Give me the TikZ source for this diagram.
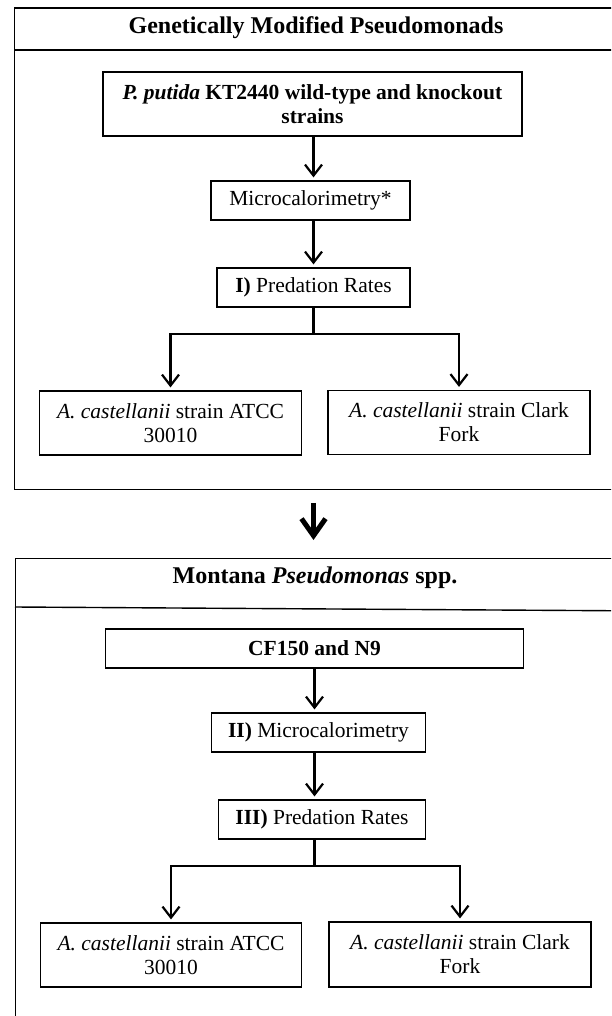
\documentclass[tikz,border=0pt]{standalone}
\usepackage{fontspec}
\setmainfont{Liberation Serif}
\usetikzlibrary{shapes,arrows.meta,positioning}

\begin{document}
\begin{tikzpicture}[x=1pt, y=-1pt,
        every node/.style={font=\fontsize{21.5}{24}\selectfont, inner sep=0pt},
        panel/.style={draw, line width=1.4pt, minimum width=640pt, anchor=north west},
        paneltitle/.style={font=\fontsize{24}{26}\selectfont\bfseries},
        stepbox/.style={draw, line width=1.2pt, align=center},
        flow/.style={line width=2.2pt, -{Straight Barb[length=11pt,width=17pt,line width=2.2pt]}, shorten >=3pt},
        link/.style={line width=2.2pt},
        bigflow/.style={line width=5pt, -{Straight Barb[length=17pt,width=24pt,line width=5pt]}}]

    \useasboundingbox (0,0) rectangle (611,1016);
    \clip (0,0) rectangle (611,1016);

    % first panel
    \node[panel, minimum height=481pt] (gmp) at (14,7.5) {};
    \draw[line width=1.4pt] (gmp.north west) ++(0,42.5) -- ++(640,0);
    \node[paneltitle] (gmptitle) at (316,28) {Genetically Modified Pseudomonads};

    \node[stepbox, minimum width=419pt, minimum height=64pt] (putida) at (312.5,104)
        {\textbf{\textit{P. putida} KT2440 wild-type and knockout}\\\textbf{strains}};
    \node[stepbox, minimum width=199pt, minimum height=39pt] (micro) at (310.5,200.5) {Microcalorimetry*};
    \node[stepbox, minimum width=193pt, minimum height=39pt] (pred) at (313.5,287.5) {\textbf{I)} Predation Rates};
    \node[stepbox, minimum width=262pt, minimum height=64pt] (atcc) at (170.5,423)
        {\textit{A. castellanii} strain ATCC\\30010};
    \node[stepbox, minimum width=262pt, minimum height=64pt] (clark) at (459,422.5)
        {\textit{A. castellanii} strain Clark\\Fork};

    \draw[flow] (putida.south -| pred) -- (pred |- micro.north);
    \draw[flow] (micro.south -| pred) -- (pred.north);
    \draw[link] (pred.south) -- ++(0,26) coordinate (fork);
    \draw[flow] (fork) -| (atcc.north);
    \draw[flow] (fork) -| (clark.north);

    % second panel
    \node[panel, minimum height=480pt] (mps) at (15,558) {};
    \draw[line width=1.4pt] (mps.north west) ++(0,49) -- ++(640,4);
    \node[paneltitle] (mpstitle) at (315,578) {Montana \textit{Pseudomonas} spp.};

    \node[stepbox, minimum width=418pt, minimum height=39pt] (cf) at (314.5,648.5) {\textbf{CF150 and N9}};
    \node[stepbox, minimum width=214pt, minimum height=39pt] (microtwo) at (318.5,732.5) {\textbf{II)} Microcalorimetry};
    \node[stepbox, minimum width=207pt, minimum height=39pt] (predtwo) at (322,819.5) {\textbf{III)} Predation Rates};
    \node[stepbox, minimum width=261pt, minimum height=64pt] (atcctwo) at (171,955)
        {\textit{A. castellanii} strain ATCC\\30010};
    \node[stepbox, minimum width=262pt, minimum height=65pt] (clarktwo) at (460,954.5)
        {\textit{A. castellanii} strain Clark\\Fork};

    \draw[flow] (cf) -- (cf |- microtwo.north);
    \draw[flow] (microtwo.south -| cf) -- (cf |- predtwo.north);
    \draw[link] (predtwo.south -| cf) -- ++(0,26) coordinate (forktwo);
    \draw[flow] (forktwo) -| (atcctwo.north);
    \draw[flow] (forktwo) -| (clarktwo.north);

    % between the panels
    \draw[bigflow, shorten <=13pt, shorten >=18pt] (gmp.south -| pred) -- (mps.north -| pred);
\end{tikzpicture}
\end{document}
